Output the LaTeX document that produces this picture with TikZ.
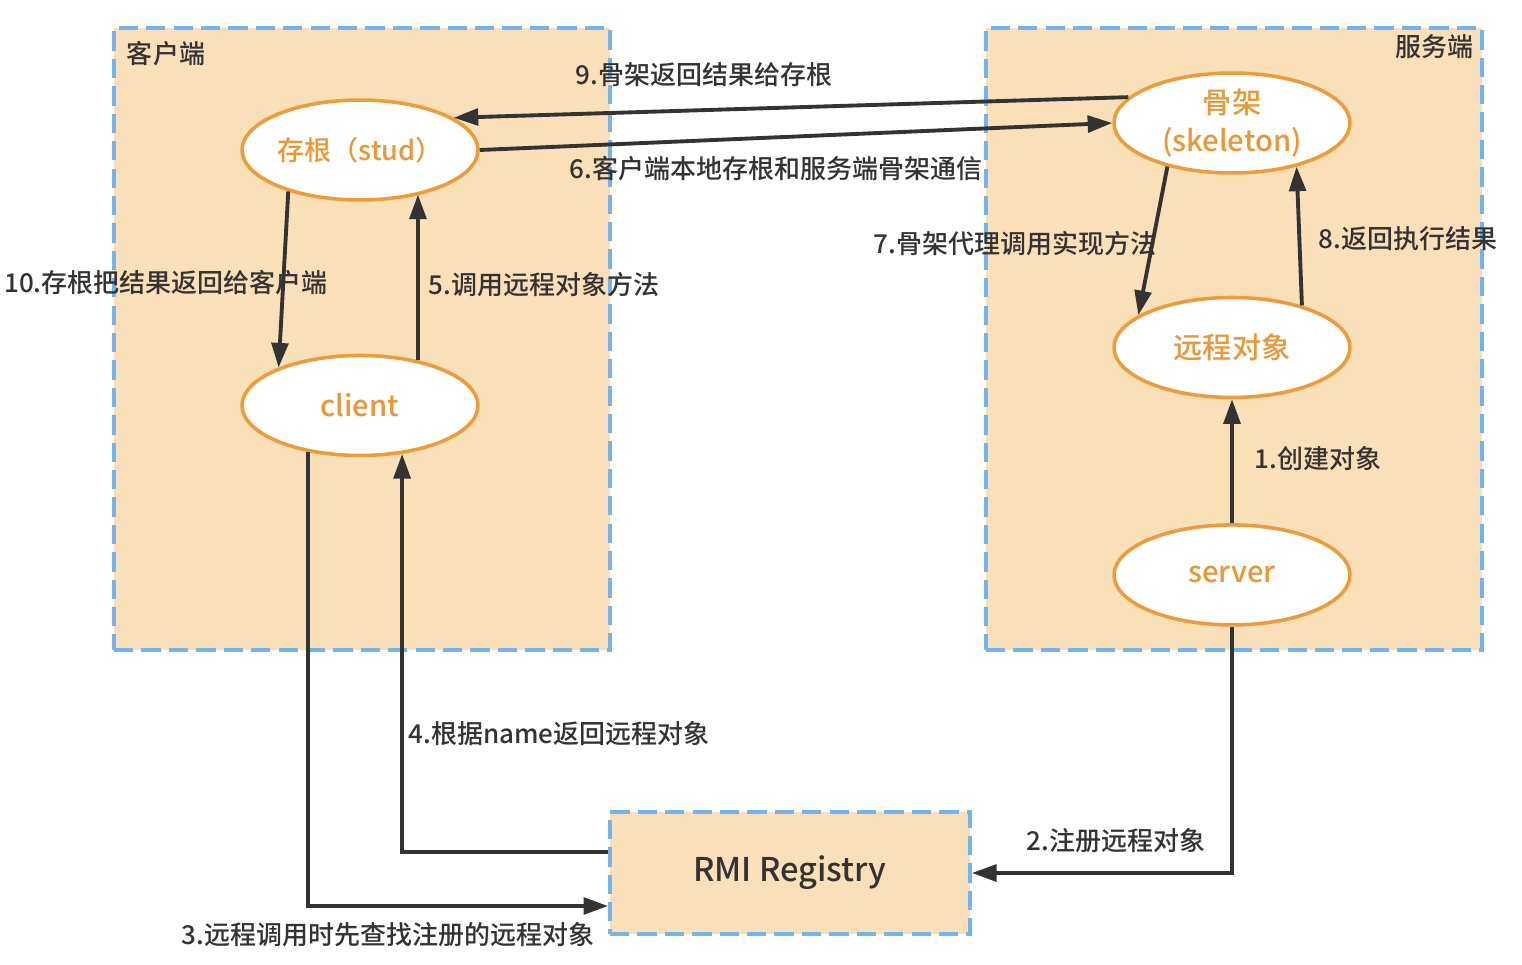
\documentclass[tikz,border=0pt]{standalone}
\usepackage{fontspec}
\setmainfont{Noto Sans CJK SC}[UprightFont=* Medium]
\usepackage{xcolor}
\usetikzlibrary{shapes.geometric, arrows.meta, positioning, calc}

\definecolor{boxfill}{HTML}{F9E0B8}
\definecolor{boxline}{HTML}{72B3F2}
\definecolor{nodeline}{HTML}{F19B36}
\definecolor{nodetext}{HTML}{EF9633}
\definecolor{ink}{HTML}{333333}

\tikzset{
    side/.style={draw=boxline, fill=boxfill, line width=2.2pt, dash pattern=on 11pt off 4.6pt, inner sep=0},
    obj/.style={ellipse, draw=nodeline, fill=white, line width=2pt, minimum width=4.72cm, minimum height=2cm, inner sep=0, text=nodetext, font=\fontsize{16.6}{21.5}\selectfont, align=center},
    call/.style={draw=ink, line width=2.2pt, -{Triangle[length=14pt,width=9.5pt]}},
    note/.style={text=ink, font=\fontsize{14.8}{17}\selectfont},
}

\begin{document}
\begin{tikzpicture}[x=0.02cm, y=-0.02cm]
    \useasboundingbox (0,0) rectangle (1522,964);

    % Sides
    \node[side, minimum width=9.92cm, minimum height=12.44cm] (clientside) at (362,339) {};
    \node[side, minimum width=9.92cm, minimum height=12.44cm] (serverside) at (1234,339) {};
    \node[side, minimum width=7.2cm, minimum height=2.44cm, text=ink, font=\fontsize{18.6}{22}\selectfont] (reg) at (790,873) {RMI Registry};
    \node[note] (clientname) at (166,54) {客户端};
    \node[note] (servername) at (1434,47) {服务端};

    % Objects
    \node[obj, font=\fontsize{15.4}{20}\selectfont] (stud) at (360,150) {存根（stud）};
    \node[obj] (client) [below=3.04cm of stud] {client};
    \node[obj] (skel) at (1232,123) {骨架\\(skeleton)};
    \node[obj] (remote) [below=2.42cm of skel] {远程对象};
    \node[obj] (server) [below=2.48cm of remote] {server};

    % Calls
    \draw[call] (server) -- (remote);
    \draw[call] (server.south) |- (reg.east);
    \draw[call] (client.222) |- ([yshift=-0.66cm]reg.west);
    \draw[call] ([yshift=0.42cm]reg.west) -| (client.-49);
    \draw[call] (client.38) -- (client.38 |- stud.-36);
    \draw[call] (stud.east) -- (skel.west);
    \draw[call] (skel.214) -- (remote.161);
    \draw[call] (remote.31) -- (skel.-34);
    \draw[call] (skel.166) -- (stud.19);
    \draw[call] (stud.210) -- (client.155);

    % Labels
    \node[note] (l1) at (1318,459) {1.创建对象};
    \node[note] (l2) at (1116,841) {2.注册远程对象};
    \node[note] (l3) at (388,935) {3.远程调用时先查找注册的远程对象};
    \node[note] (l4) at (559,734) {4.根据name返回远程对象};
    \node[note] (l5) at (544,285) {5.调用远程对象方法};
    \node[note] (l6) at (776,169) {6.客户端本地存根和服务端骨架通信};
    \node[note] (l7) at (1015,244) {7.骨架代理调用实现方法};
    \node[note] (l8) at (1408,239) {8.返回执行结果};
    \node[note] (l9) at (704,75) {9.骨架返回结果给存根};
    \node[note] (l10) at (166,283) {10.存根把结果返回给客户端};
\end{tikzpicture}
\end{document}
